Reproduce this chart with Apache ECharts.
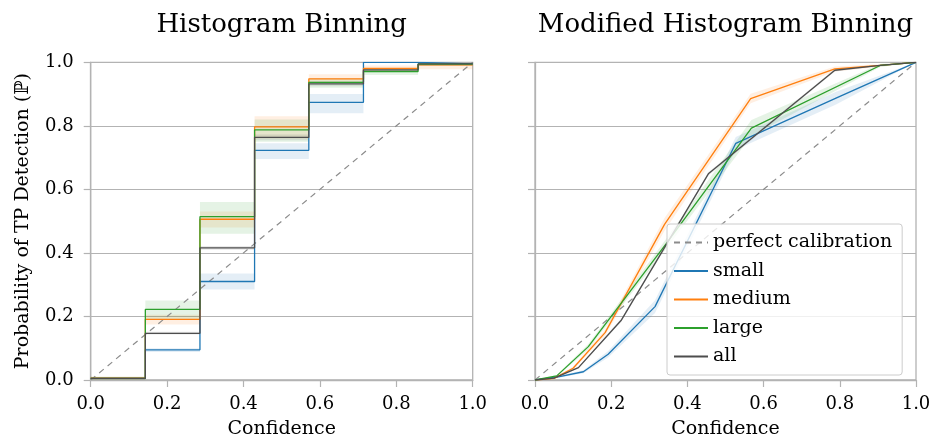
<!DOCTYPE html>
<html>
<head>
<meta charset="utf-8">
<script src="https://cdn.jsdelivr.net/npm/echarts@6/dist/echarts.min.js"></script>
<style>html,body{margin:0;padding:0;background:#fff}#c{width:938px;height:444px}</style>
</head>
<body>
<div id="c"></div>
<script>
// ---------- data ----------
const axisTicks = [0.0, 0.2, 0.4, 0.6, 0.8, 1.0];
const seriesNames = ['small', 'medium', 'large', 'all'];
const diagX = [0, 1];
const diagY = [0, 1];

// Histogram binning: bin edges and per-bin values
const hbEdges = [0, 0.143, 0.286, 0.429, 0.571, 0.714, 0.857, 1.0];
const hbSmall  = [0.005, 0.095, 0.310, 0.723, 0.874, 1.000, 0.995];
const hbMedium = [0.006, 0.191, 0.506, 0.797, 0.948, 0.981, 0.992];
const hbLarge  = [0.005, 0.222, 0.514, 0.787, 0.937, 0.971, 0.994];
const hbAll    = [0.005, 0.147, 0.416, 0.764, 0.932, 0.976, 0.995];
const hbSmallLo  = [0.000, 0.088, 0.285, 0.696, 0.840, 1.000, 0.990];
const hbSmallHi  = [0.008, 0.100, 0.335, 0.745, 0.900, 1.000, 0.998];
const hbMediumLo = [0.000, 0.175, 0.480, 0.760, 0.935, 0.970, 0.978];
const hbMediumHi = [0.010, 0.205, 0.530, 0.830, 0.962, 0.990, 0.998];
const hbLargeLo  = [0.000, 0.190, 0.460, 0.750, 0.920, 0.960, 0.988];
const hbLargeHi  = [0.010, 0.250, 0.560, 0.820, 0.950, 0.980, 0.998];
const hbAllLo    = [0.002, 0.143, 0.410, 0.755, 0.925, 0.970, 0.990];
const hbAllHi    = [0.008, 0.152, 0.422, 0.773, 0.940, 0.982, 0.998];

// Modified histogram binning: points per series (x, y, band half-width)
const mhbSmallX  = [0, 0.061, 0.127, 0.192, 0.315, 0.527, 0.790, 1.0];
const mhbSmallY  = [0, 0.010, 0.026, 0.081, 0.231, 0.745, 0.887, 1.0];
const mhbSmallE  = [0, 0.003, 0.005, 0.010, 0.020, 0.020, 0.020, 0];
const mhbMediumX = [0, 0.050, 0.100, 0.184, 0.340, 0.566, 0.787, 0.905, 1.0];
const mhbMediumY = [0, 0.005, 0.037, 0.149, 0.490, 0.886, 0.979, 0.990, 1.0];
const mhbMediumE = [0, 0.003, 0.005, 0.010, 0.020, 0.015, 0.008, 0.004, 0];
const mhbLargeX  = [0, 0.057, 0.140, 0.345, 0.568, 0.906, 1.0];
const mhbLargeY  = [0, 0.013, 0.105, 0.430, 0.793, 0.990, 1.0];
const mhbLargeE  = [0, 0.003, 0.008, 0.015, 0.025, 0.005, 0];
const mhbAllX    = [0, 0.050, 0.114, 0.227, 0.455, 0.787, 0.906, 1.0];
const mhbAllY    = [0, 0.006, 0.039, 0.189, 0.649, 0.975, 0.990, 1.0];
const mhbAllE    = [0, 0.002, 0.003, 0.005, 0.005, 0.004, 0.002, 0];

// ---------- styles ----------
const colors = { small: '#1f77b4', medium: '#ff7f0e', large: '#2ca02c', all: '#4d4d4d' };
const FONT = 'DejaVu Serif';
const GRID_C = '#b3b3b3';
const BAND_OP = 0.12;

function stepPts(edges, vals) {
  return edges.map((e, i) => [e, vals[Math.min(i, vals.length - 1)]]);
}
function zip(xs, ys) { return xs.map((x, i) => [x, ys[i]]); }

const series = [];

// left bands: one rectangle per bin, drawn through the axes
const hbBands = { small: [hbSmallLo, hbSmallHi], medium: [hbMediumLo, hbMediumHi],
  large: [hbLargeLo, hbLargeHi], all: [hbAllLo, hbAllHi] };
seriesNames.forEach(n => {
  const lo = hbBands[n][0], hi = hbBands[n][1];
  const data = lo.map((l, i) => [hbEdges[i], hbEdges[i + 1], l, hi[i]]);
  series.push({
    type: 'custom', name: '_band0_' + n, xAxisIndex: 0, yAxisIndex: 0, silent: true, z: 1,
    encode: { x: [0, 1], y: [2, 3] }, data: data, animation: false,
    renderItem: (params, api) => {
      const a = api.coord([api.value(0), api.value(3)]);
      const b = api.coord([api.value(1), api.value(2)]);
      return { type: 'rect', shape: { x: a[0], y: a[1], width: b[0] - a[0], height: Math.max(b[1] - a[1], 0.5) },
        style: { fill: colors[n], opacity: BAND_OP } };
    }
  });
});

// right bands: polygon along each curve
const mhb = { small: [mhbSmallX, mhbSmallY, mhbSmallE], medium: [mhbMediumX, mhbMediumY, mhbMediumE],
  large: [mhbLargeX, mhbLargeY, mhbLargeE], all: [mhbAllX, mhbAllY, mhbAllE] };
seriesNames.forEach(n => {
  const [xs, ys, es] = mhb[n];
  series.push({
    type: 'custom', name: '_band1_' + n, xAxisIndex: 1, yAxisIndex: 1, silent: true, z: 1,
    data: [[xs[0], ys[0]]], animation: false,
    renderItem: (params, api) => {
      const up = xs.map((x, i) => api.coord([x, ys[i] + es[i]]));
      const dn = xs.map((x, i) => api.coord([x, ys[i] - es[i]])).reverse();
      return { type: 'polygon', shape: { points: up.concat(dn) },
        style: { fill: colors[n], opacity: BAND_OP } };
    }
  });
});

// diagonals
[0, 1].forEach(idx => series.push({
  name: 'perfect calibration', type: 'line', xAxisIndex: idx, yAxisIndex: idx, symbol: 'none',
  data: zip(diagX, diagY), lineStyle: { color: '#8c8c8c', width: 1.2, type: [6, 5] },
  itemStyle: { color: '#8c8c8c' }, z: 2, animation: false
}));

// main lines
const hbVals = { small: hbSmall, medium: hbMedium, large: hbLarge, all: hbAll };
seriesNames.forEach(n => series.push({
  name: n, type: 'line', xAxisIndex: 0, yAxisIndex: 0, symbol: 'none', step: 'end',
  data: stepPts(hbEdges, hbVals[n]), lineStyle: { color: colors[n], width: 1.3 },
  itemStyle: { color: colors[n] }, z: 3, animation: false
}));
seriesNames.forEach(n => series.push({
  name: n, type: 'line', xAxisIndex: 1, yAxisIndex: 1, symbol: 'none',
  data: zip(mhb[n][0], mhb[n][1]), lineStyle: { color: colors[n], width: 1.3 },
  itemStyle: { color: colors[n] }, z: 3, animation: false
}));

function xAxis(idx) {
  return {
    type: 'value', gridIndex: idx, min: 0, max: 1, interval: 0.2,
    name: 'Confidence', nameLocation: 'middle', nameGap: 40,
    nameTextStyle: { fontFamily: FONT, fontSize: 19, color: '#000' },
    axisLine: { show: true, onZero: false, lineStyle: { color: GRID_C, width: 1.3 } },
    axisTick: { show: true, length: 7, lineStyle: { color: GRID_C, width: 1.2 } },
    axisLabel: { fontFamily: FONT, fontSize: 18, color: '#000', margin: 15,
      formatter: v => v.toFixed(1) },
    splitLine: { show: false }
  };
}
function yAxis(idx, labels) {
  return {
    type: 'value', gridIndex: idx, min: 0, max: 1, interval: 0.2,
    name: labels ? 'Probability of TP Detection (\u2119)' : '', nameLocation: 'middle', nameGap: 58,
    nameTextStyle: { fontFamily: FONT, fontSize: 19, color: '#000' },
    axisLine: { show: true, lineStyle: { color: GRID_C, width: 1.3 } },
    axisTick: { show: true, length: 7, lineStyle: { color: GRID_C, width: 1.2 } },
    axisLabel: { show: labels, fontFamily: FONT, fontSize: 18, color: '#000', margin: 17,
      formatter: v => v.toFixed(1) },
    splitLine: { show: true, lineStyle: { color: GRID_C, width: 1.2 } }
  };
}

const option = {
  animation: false,
  backgroundColor: '#fff',
  title: [
    { text: 'Histogram Binning', left: 281.7, top: 12, textAlign: 'center', padding: 0,
      textStyle: { fontFamily: FONT, fontSize: 26, fontWeight: 'normal', color: '#000' } },
    { text: 'Modified Histogram Binning', left: 725.5, top: 12, textAlign: 'center', padding: 0,
      textStyle: { fontFamily: FONT, fontSize: 26, fontWeight: 'normal', color: '#000' } }
  ],
  grid: [
    { left: 90.7, top: 62.3, width: 382, height: 317.7, show: true, borderColor: GRID_C, borderWidth: 1.3, containLabel: false },
    { left: 535, top: 62.3, width: 381, height: 317.7, show: true, borderColor: GRID_C, borderWidth: 1.3, containLabel: false }
  ],
  xAxis: [xAxis(0), xAxis(1)],
  yAxis: [yAxis(0, true), yAxis(1, false)],
  legend: {
    data: ['perfect calibration'].concat(seriesNames),
    orient: 'vertical', left: 667, top: 224,
    itemWidth: 34, itemHeight: 14, itemGap: 9.5,
    padding: [9, 10, 9, 6],
    itemStyle: { opacity: 0, borderWidth: 0 },
    backgroundColor: 'rgba(255,255,255,0.8)', borderColor: '#cccccc', borderWidth: 1, borderRadius: 3,
    textStyle: { fontFamily: FONT, fontSize: 19, color: '#000', lineHeight: 18 },
    selectedMode: false, z: 10
  },
  series: series
};

const chart = echarts.init(document.getElementById('c'));
chart.setOption(option);
</script>
</body>
</html>
